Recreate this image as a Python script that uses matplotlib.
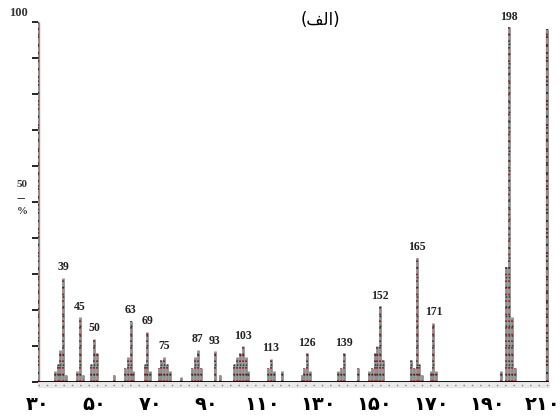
import matplotlib
matplotlib.use("Agg")
import matplotlib.pyplot as plt

# Mass spectrum: m/z values and relative abundances (%)
mz = [36, 37, 38, 39, 40, 44, 45, 46, 49, 50, 51, 57,
      61, 62, 63, 64, 68, 69, 70, 73, 74, 75, 76, 77, 81,
      85, 86, 87, 88, 93, 95, 100, 101, 102, 103, 104, 105,
      112, 113, 114, 117, 124, 125, 126, 127, 137, 138, 139,
      144, 148, 149, 150, 151, 152, 153, 163, 164, 165, 166,
      167, 170, 171, 172, 195, 197, 198, 199, 200]
abundance = [3, 5, 9, 29, 2, 3, 18, 2, 5, 12, 8, 2,
             4, 7, 17, 3, 5, 14, 3, 4, 6, 7, 5, 3, 1.5,
             4, 7, 9, 4, 8.5, 2, 5, 7, 8, 10, 7, 3,
             4, 6.5, 3, 3, 2, 4, 8, 3, 3, 4, 8,
             4, 3, 4, 8, 10, 21, 6, 6, 4, 34.5, 5,
             2, 3, 16.5, 3, 3, 32, 98.5, 18, 4]
labeled_peaks = [39, 45, 50, 63, 69, 75, 87, 93, 103, 113, 126, 139,
                 152, 165, 171, 198]

x_ticks = [30, 50, 70, 90, 110, 130, 150, 170, 190, 210]
x_tick_labels = ["۳۰", "۵۰", "۷۰", "۹۰", "۱۱۰", "۱۳۰", "۱۵۰", "۱۷۰", "۱۹۰", "۲۱۰"]
y_ticks = [0, 10, 20, 30, 40, 50, 60, 70, 80, 90, 100]

# right frame line of the record
frame_right = 211.3
frame_right_top = 98

fig = plt.figure(figsize=(5.6, 4.18), dpi=100)
ax = fig.add_axes([38 / 560, 36 / 418, 510.5 / 560, 360 / 418])
ax.set_xlim(30, 212)
ax.set_ylim(0, 100)

gray = "#8e8e8e"
red = "#8a1c1c"


def stick(x, top, lw=2.0):
    ax.vlines(x, 0, top, color=gray, lw=lw, zorder=2)
    ax.vlines(x, 0, top, color=red, lw=lw * 0.6, linestyles=(0, (1, 3)), zorder=3)
    ax.vlines(x, 0, top, color="#2a2a2a", lw=lw * 0.5, linestyles=(2, (1, 6)), zorder=3)


for m, a in zip(mz, abundance):
    stick(m, a)

# frame lines
stick(30, 100, lw=2.4)
stick(frame_right, frame_right_top, lw=2.4)

# baseline with a faint smudge under it
ax.axhline(0, color="black", lw=1.3, zorder=4)
ax.axhspan(-1.5, 0, color="#d4d4d4", alpha=0.45, zorder=1, clip_on=False)
ax.hlines(-0.8, 30, 212, color=red, lw=1.0, linestyles=(0, (1, 5)), alpha=0.6,
          zorder=1, clip_on=False)

# peak labels
for m, a in zip(mz, abundance):
    if m in labeled_peaks:
        ax.text(m, a + 1.2, str(m), ha="center", va="bottom",
                fontsize=8.5, fontweight="bold", family="Liberation Serif",
                color="#222222", zorder=5)

for s in ax.spines.values():
    s.set_visible(False)

ax.set_yticks(y_ticks)
ax.set_yticklabels([])
ax.tick_params(axis="y", direction="out", length=4, width=1.2, color="black")
ax.set_xticks(x_ticks)
ax.set_xticklabels(x_tick_labels, fontsize=14, fontweight="bold", family="DejaVu Sans")
ax.tick_params(axis="x", length=0, pad=9)

# scale marks on the left edge
fig.text(18 / 560, 1 - 13 / 418, "100", ha="center", va="center", fontsize=9,
         fontweight="bold", family="Liberation Serif", color="#333333")
fig.text(22 / 560, 1 - 185 / 418, "50", ha="center", va="center", fontsize=8,
         fontweight="bold", family="Liberation Serif", color="#333333")
fig.text(21 / 560, 1 - 199 / 418, "—", ha="center", va="center", fontsize=6,
         color="black")
fig.text(22 / 560, 1 - 212 / 418, "%", ha="center", va="center", fontsize=8,
         fontweight="bold", family="Liberation Serif", color="#333333")

# title (Arabic presentation forms, laid out left to right)
fig.text(320 / 560, 1 - 20 / 418, "(\uFED2\uFEDF\uFE8D)", ha="center", va="center",
         fontsize=12, family="DejaVu Sans", color="black")

fig.savefig("out.png", dpi=100, facecolor="white")
